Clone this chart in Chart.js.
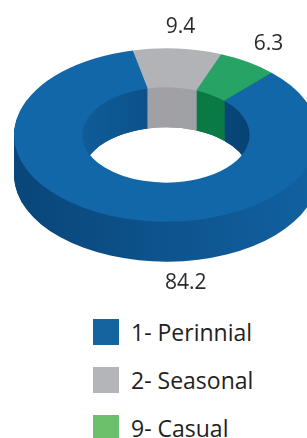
<!DOCTYPE html>
<html>
<head>
<meta charset="utf-8">
<script src="https://cdn.jsdelivr.net/npm/chart.js@4.4.1/dist/chart.umd.min.js"></script>
<style>
html, body { margin: 0; padding: 0; background: #fff; overflow: hidden; }
#wrap { position: relative; width: 307px; height: 438px; overflow: hidden; }
#box { position: absolute; left: 0; top: 0; width: 332px; height: 304px; }
#legend { position: absolute; left: 93px; top: 319px; font-family: "Open Sans", sans-serif; font-size: 23px; color: #231f20; }
.item { display: flex; align-items: center; height: 26px; margin-bottom: 22px; white-space: nowrap; }
.sw { width: 26px; height: 26px; margin-right: 12px; flex: none; }
</style>
</head>
<body>
<div id="wrap">
  <div id="box"><canvas id="pie"></canvas></div>
  <div id="legend"></div>
</div>
<script>
// data
const categories = ['1- Perinnial', '2- Seasonal', '9- Casual'];
const shares = [84.2, 9.4, 6.3];

// colours: top face, legend swatch, inner wall
const topColors = ['#1267a8', '#b2b3b7', '#27a465'];
const legendColors = ['#1564a0', '#b4b5b9', '#6cc06b'];
const innerColors = [null, '#a0a1a5', '#0b7a46'];

// squashes the doughnut into an ellipse and stacks layers under it for depth
const ring3d = {
    id: 'ring3d',
    beforeDatasetsDraw(chart, args, o) {
        const ctx = chart.ctx;
        const arcs = chart.getDatasetMeta(0).data;
        const c = arcs[0];
        const tilt = (dy) => {
            ctx.translate(0, o.centerY + dy);
            ctx.scale(1, o.tilt);
            ctx.translate(0, -c.y);
        };
        const fill = (arc, style) => {
            const p = arc.getProps(['x', 'y', 'startAngle', 'endAngle', 'innerRadius', 'outerRadius']);
            ctx.beginPath();
            ctx.arc(p.x, p.y, p.outerRadius, p.startAngle, p.endAngle);
            ctx.arc(p.x, p.y, p.innerRadius, p.endAngle, p.startAngle, true);
            ctx.closePath();
            ctx.fillStyle = style;
            ctx.fill();
        };
        const stack = (styles) => {
            for (let d = o.depth; d > 0; d--) {
                ctx.save();
                tilt(d);
                arcs.forEach((a, i) => fill(a, styles[i]));
                ctx.restore();
            }
        };

        // outer wall, darker on the left
        const gOut = ctx.createLinearGradient(c.x - c.outerRadius, 0, c.x + c.outerRadius, 0);
        gOut.addColorStop(0, '#094679');
        gOut.addColorStop(1, '#1261a1');
        stack([gOut, '#8f9094', '#0b7a46']);

        // inner wall, only seen through the hole
        const gIn = ctx.createLinearGradient(c.x - c.innerRadius, 0, c.x + c.innerRadius, 0);
        gIn.addColorStop(0, '#0f5c98');
        gIn.addColorStop(1, '#084274');
        ctx.save();
        ctx.save();
        tilt(0);
        ctx.beginPath();
        ctx.ellipse(c.x, c.y, c.innerRadius, c.innerRadius, 0, 0, Math.PI * 2);
        ctx.restore();
        ctx.clip();
        stack([gIn, innerColors[1], innerColors[2]]);
        ctx.restore();

        // top face is drawn by the chart itself under this transform
        ctx.save();
        tilt(0);
    },
    afterDatasetsDraw(chart, args, o) {
        const ctx = chart.ctx;
        ctx.restore();
        const arcs = chart.getDatasetMeta(0).data;
        const data = chart.data.datasets[0].data;
        ctx.save();
        ctx.font = o.font;
        ctx.fillStyle = o.color;
        ctx.textAlign = 'center';
        ctx.textBaseline = 'middle';
        arcs.forEach((arc, i) => {
            const p = arc.getProps(['x', 'startAngle', 'endAngle', 'outerRadius']);
            let a = (p.startAngle + p.endAngle) / 2;
            if (o.labelAngles[i] != null) a = (o.labelAngles[i] - 90) * Math.PI / 180;
            const r = p.outerRadius + o.labelGap;
            const sy = Math.sin(a) * r * o.tilt;
            const x = p.x + Math.cos(a) * r;
            const y = o.centerY + sy + (Math.sin(a) > 0 ? o.depth : 0);
            ctx.fillText(data[i].toFixed(1), x, y);
        });
        ctx.restore();
    }
};

new Chart(document.getElementById('pie'), {
    type: 'doughnut',
    data: {
        labels: categories,
        datasets: [{
            data: shares,
            backgroundColor: topColors,
            borderWidth: 0,
            hoverOffset: 0
        }]
    },
    options: {
        responsive: true,
        maintainAspectRatio: false,
        animation: false,
        events: [],
        cutout: '55%',
        rotation: 44,
        layout: { padding: 0 },
        plugins: {
            legend: { display: false },
            tooltip: { enabled: false },
            ring3d: {
                centerY: 135,
                tilt: 0.57,
                depth: 40,
                labelGap: 38,
                labelAngles: [174, null, null],
                font: '21px "Open Sans"',
                color: '#2b2b2b'
            }
        }
    },
    plugins: [ring3d]
});

// legend below the ring
const legendEl = document.getElementById('legend');
categories.forEach((name, i) => {
    const row = document.createElement('div');
    row.className = 'item';
    row.innerHTML = `<span class="sw" style="background:${legendColors[i]}"></span><span>${name}</span>`;
    legendEl.appendChild(row);
});
</script>
</body>
</html>
